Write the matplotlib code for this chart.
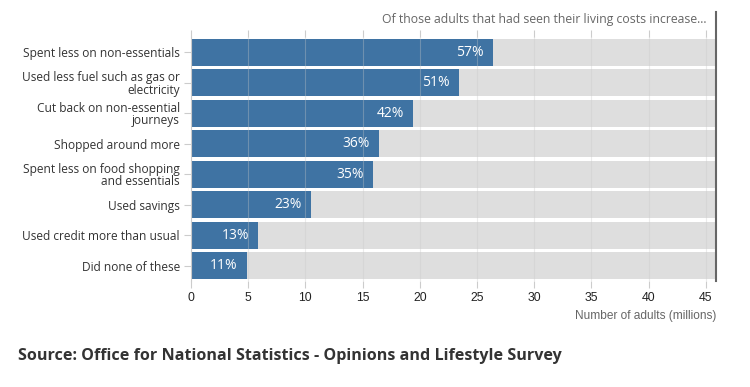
import matplotlib
matplotlib.use("Agg")
import matplotlib.pyplot as plt

categories = [
    "Spent less on non-essentials",
    "Used less fuel such as gas or\nelectricity",
    "Cut back on non-essential\njourneys",
    "Shopped around more",
    "Spent less on food shopping\nand essentials",
    "Used savings",
    "Used credit more than usual",
    "Did none of these",
]
values = [26.4, 23.4, 19.4, 16.4, 15.9, 10.5, 5.9, 4.9]
percent_labels = ["57%", "51%", "42%", "36%", "35%", "23%", "13%", "11%"]
total = 45.9
x_ticks = [0, 5, 10, 15, 20, 25, 30, 35, 40, 45]

plt.rcParams['font.family'] = ['Open Sans', 'DejaVu Sans']

fig = plt.figure(figsize=(7.5, 3.87), dpi=100)
W, H = 750, 387
left, right, top, bottom = 191, 716, 37, 281
ax = fig.add_axes([left / W, 1 - bottom / H, (right - left) / W, (bottom - top) / H])

ypos = list(range(len(categories)))
ax.barh(ypos, [total] * len(categories), height=0.9, color="#dedede", zorder=1)
ax.barh(ypos, values, height=0.9, color="#3f73a3", zorder=2)

for y, v, lab in zip(ypos, values, percent_labels):
    ax.text(v - 0.8, y, lab, color="white", ha="right", va="center",
            fontsize=10, zorder=4)

ax.set_xlim(0, total)
ax.set_ylim(len(categories) - 0.5, -0.5)
ax.set_xticks(x_ticks)
ax.set_xticklabels([str(t) for t in x_ticks], family="Liberation Sans",
                   fontsize=8.8, color="#222222")
ax.set_yticks(ypos)
ax.set_yticklabels(categories, fontsize=8.6, color="#333333", linespacing=0.95)

for t in x_ticks:
    ax.axvline(t, color="#c8c8c8", lw=0.8, alpha=0.35, zorder=3)

ax.tick_params(axis="x", length=5, color="#cccccc", pad=3, top=True)
ax.tick_params(axis="y", length=5, color="#cccccc", pad=3)

for s in ["top", "bottom"]:
    ax.spines[s].set_visible(False)
ax.spines["left"].set_color("#cccccc")
ax.spines["left"].set_linewidth(0.8)
ax.spines["right"].set_visible(False)

# right-hand marker line
fig.add_artist(plt.Line2D([right / W, right / W], [1 - 12 / H, 1 - bottom / H],
                          color="#666666", lw=1.5))

fig.text(707 / W, 1 - 19 / H, "Of those adults that had seen their living costs increase...",
         ha="right", va="center", fontsize=8.8, color="#666666")
fig.text(716 / W, 1 - 316 / H, "Number of adults (millions)", ha="right", va="center",
         fontsize=8.6, color="#666666", family="Liberation Sans")
fig.text(18 / W, 1 - 356 / H, "Source: Office for National Statistics - Opinions and Lifestyle Survey",
         ha="left", va="center", fontsize=11.6, fontweight="bold", color="#333333")

fig.savefig("out.png", dpi=100)
